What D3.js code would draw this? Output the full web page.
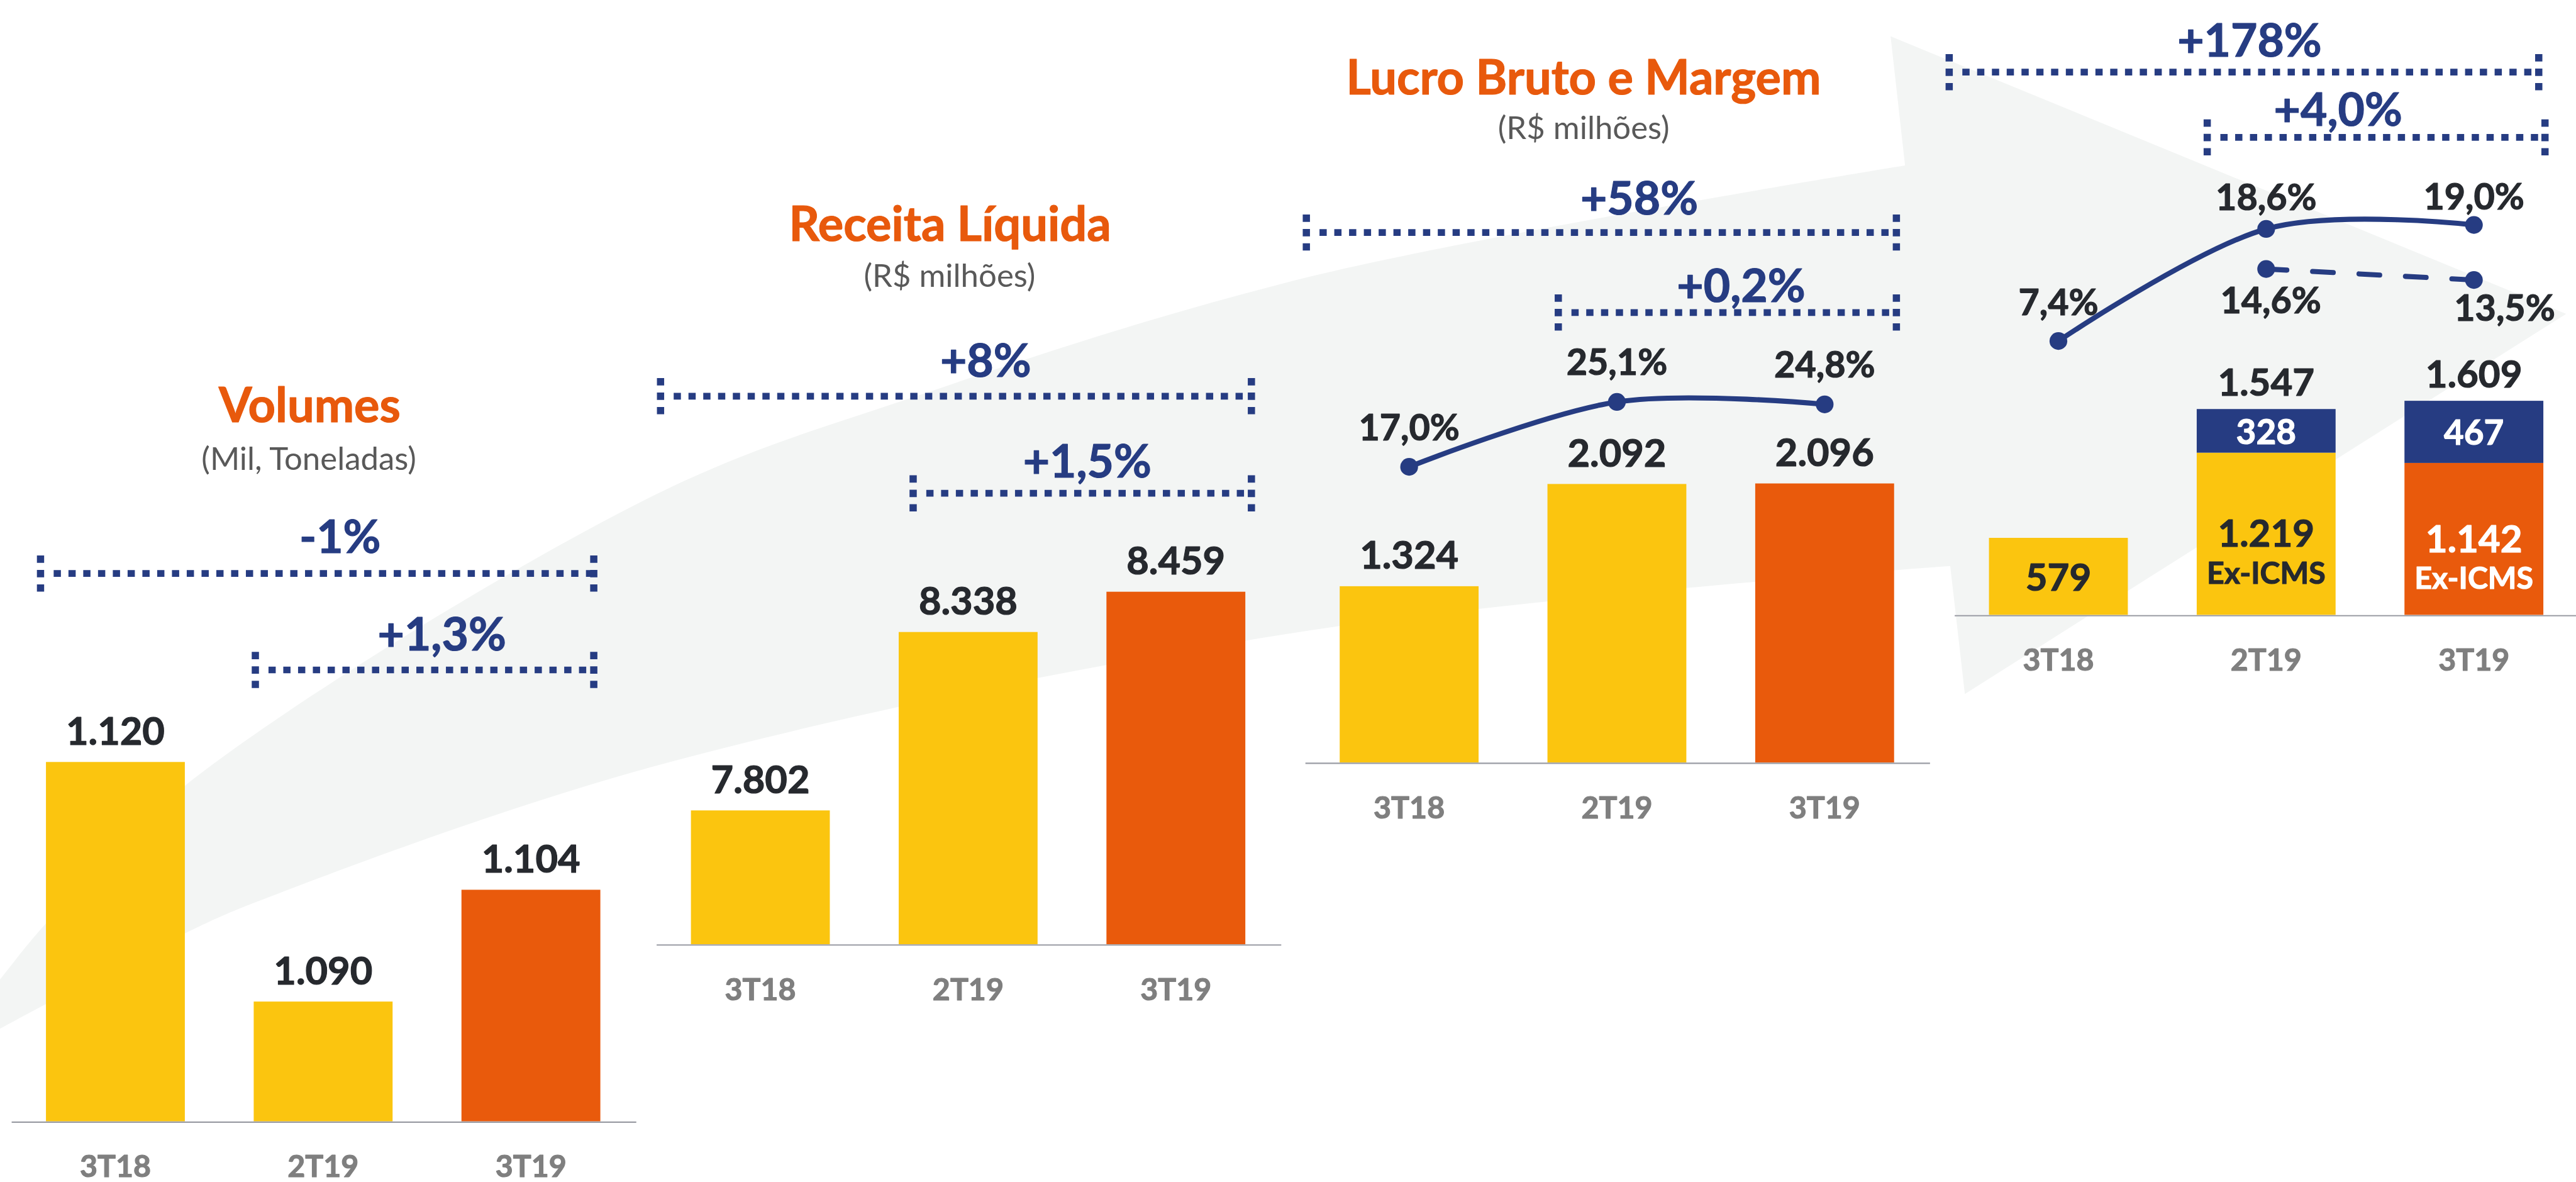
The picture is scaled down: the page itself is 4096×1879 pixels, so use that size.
<!DOCTYPE html>
<html>
<head>
<meta charset="utf-8">
<script src="https://cdnjs.cloudflare.com/ajax/libs/d3/7.8.5/d3.min.js"></script>
<style>
html, body { margin: 0; padding: 0; background: #fff; overflow: hidden; }
svg text { font-family: Lato, "Open Sans", sans-serif; }
svg text.b { font-weight: 700; stroke-width: 0.45px; stroke-linejoin: round; }
</style>
</head>
<body>
<script>
// Data
var quarters = ["3T18", "2T19", "3T19"];
var volumes = [1120, 1090, 1104];            // mil toneladas
var receita = [7802, 8338, 8459];            // R$ milhões
var lucroBruto = [1324, 2092, 2096];         // R$ milhões
var margemBruta = [17.0, 25.1, 24.8];        // %
var ebitdaExIcms = [579, 1219, 1142];        // R$ milhões
var ebitdaIcms = [0, 328, 467];              // R$ milhões
var margemEbitda = [7.4, 18.6, 19.0];        // %
var margemEbitdaExIcms = [null, 14.6, 13.5]; // %
var deltaTotal = ["-1%", "+8%", "+58%", "+178%"];
var deltaTri = ["+1,3%", "+1,5%", "+0,2%", "+4,0%"];
var titles = ["Volumes", "Receita Líquida", "Lucro Bruto e Margem"];
var subtitles = ["(Mil, Toneladas)", "(R$ milhões)", "(R$ milhões)"];

// everything is laid out on a 1568 x 719 grid and scaled up to the window
var k = 4096 / 1568;

var YELLOW = "#fbc50f", ORANGE = "#e95a0c", NAVY = "#263c82",
    DARK = "#26292e", GREY = "#7f7f7f", SUB = "#595959", TITLE = "#e8590c";

var pt = d3.formatLocale({decimal: ",", thousands: ".", grouping: [3], currency: ["R$", ""]});
var fmtNum = pt.format(",");
var fmt1 = pt.format(".1f");
function fmtPct(v) { return fmt1(v) + "%"; }
function barColor(i) { return i === 2 ? ORANGE : YELLOW; }

// bold label helper (stroke in the fill colour to thicken Lato a bit)
function label(g, x, y, txt, size, col) {
    return g.append("text").attr("class", "b")
        .attr("x", x).attr("y", y)
        .attr("text-anchor", "middle")
        .attr("fill", col).attr("stroke", col)
        .style("font-size", size + "px")
        .text(txt);
}

var svg = d3.select("body").append("svg")
    .attr("width", 4096)
    .attr("height", 1879);

var root = svg.append("g").attr("transform", "scale(" + k + ")");

// big light grey arrow in the background
var upperEdge = [[-10, 608], [0, 596], [28, 562], [112.7, 478], [399, 301], [558, 241], [799, 168], [1159.6, 100.7]];
var arrowHead = [[1150.8, 22.1], [1562, 191], [1196, 422.3], [1187.1, 344.4]];
var lowerEdge = [[1187.1, 344.4], [798.8, 383.4], [399.4, 466], [155.8, 549], [112.5, 568], [28, 611], [0, 626], [-10, 631]];
var edge = d3.line().curve(d3.curveCatmullRom.alpha(0.5));
root.append("path")
    .attr("d", edge(upperEdge) +
        arrowHead.map(function(p) { return "L" + p[0] + "," + p[1]; }).join("") +
        edge(lowerEdge).replace(/^M/, "L") + "Z")
    .attr("fill", "#f3f5f4");

var panels = [
    {x0: 6.6, y: d3.scaleLinear().domain([1075, 1120]).range([682.4, 463.7]), values: volumes,
     title: [188.5, 257], sub: [188, 286],
     brackets: [
        {from: 0, to: 2, dl: -3.3, dr: -4, y: 349, lx: 207, ly: 336.5},
        {from: 1, to: 2, dl: 1, dr: -4, y: 407.7, lx: 269, ly: 396}]},
    {x0: 399.2, y: d3.scaleLinear().domain([7400, 8459]).range([574.6, 360.1]), values: receita,
     title: [578.3, 146.7], sub: [578, 174.6],
     brackets: [
        {from: 0, to: 2, dl: -18.5, dr: 3.7, y: 241.1, lx: 600, ly: 229.2},
        {from: 1, to: 2, dl: 8.8, dr: 3.7, y: 300.2, lx: 661.8, ly: 290.7}]},
    {x0: 794.1, y: d3.scaleLinear().domain([0, 2096]).range([464, 294.2]), values: lucroBruto,
     title: [963.9, 57.4], sub: [964, 84.5],
     line: d3.scaleLinear().domain([0, 25.1]).range([367, 244.6]),
     brackets: [
        {from: 0, to: 2, dl: -20.3, dr: 1.4, y: 141.5, lx: 997.8, ly: 130.6},
        {from: 1, to: 2, dl: 6.6, dr: 1.4, y: 190.2, lx: 1059.8, ly: 183.7}]},
    {x0: 1189.3, y: d3.scaleLinear().domain([0, 1609]).range([374.2, 243.9]), values: null,
     line: d3.scaleLinear().domain([0, 19]).range([252.6, 136.9]),
     brackets: [
        {from: 0, to: 2, dl: -24.2, dr: -2.8, y: 43.9, lx: 1369.3, ly: 34.5},
        {from: 1, to: 2, dl: 6.4, dr: 1, y: 83.6, lx: 1423.2, ly: 76.4}]}
];

function bracket(g, xL, xR, y) {
    [xL, xR].forEach(function(xx) {
        g.append("line")
            .attr("x1", xx).attr("x2", xx)
            .attr("y1", y - 11).attr("y2", y + 11)
            .attr("stroke", NAVY).attr("stroke-width", 4.4)
            .attr("stroke-dasharray", "4.5 4.3");
    });
    g.append("line")
        .attr("x1", xL + 8).attr("x2", xR - 1)
        .attr("y1", y).attr("y2", y)
        .attr("stroke", NAVY).attr("stroke-width", 4.1)
        .attr("stroke-dasharray", "4.4 4.6");
}

panels.forEach(function(p, pi) {
    var g = root.append("g");
    var x = d3.scaleBand().domain(quarters)
        .range([p.x0, p.x0 + 380.2])
        .paddingInner(0.3315)
        .paddingOuter(0.169);
    var bw = x.bandwidth();
    var y = p.y;

    // titles
    if (pi < 3) {
        label(g, p.title[0], p.title[1], titles[pi], 29, TITLE);
        g.append("text").attr("x", p.sub[0]).attr("y", p.sub[1])
            .attr("text-anchor", "middle").attr("fill", SUB)
            .style("font-size", "19.5px")
            .text(subtitles[pi]);
    }

    // growth brackets
    p.brackets.forEach(function(b, bi) {
        bracket(g, x(quarters[b.from]) + b.dl, x(quarters[b.to]) + bw + b.dr, b.y);
        label(g, b.lx, b.ly, bi === 0 ? deltaTotal[pi] : deltaTri[pi], 28, NAVY);
    });

    // bars
    if (p.values) {
        g.selectAll(".bar").data(p.values).enter().append("rect")
            .attr("x", function(d, i) { return x(quarters[i]); })
            .attr("width", bw)
            .attr("y", function(d) { return y(d); })
            .attr("height", function(d) { return y.range()[0] - y(d); })
            .attr("fill", function(d, i) { return barColor(i); });
        p.values.forEach(function(d, i) {
            label(g, x(quarters[i]) + bw / 2, y(d) - 10.5, fmtNum(d), 23.5, DARK);
        });
    } else {
        var table = quarters.map(function(q, i) {
            return {q: q, i: i, exIcms: ebitdaExIcms[i], icms: ebitdaIcms[i]};
        });
        var series = d3.stack().keys(["exIcms", "icms"])(table);
        var segs = g.selectAll(".seg").data(series).enter().append("g");
        segs.selectAll("rect").data(function(s) { return s.map(function(d) { return {key: s.key, d: d}; }); })
            .enter().append("rect")
            .filter(function(e) { return e.d[1] > e.d[0]; })
            .attr("x", function(e) { return x(e.d.data.q); })
            .attr("width", bw)
            .attr("y", function(e) { return y(e.d[1]); })
            .attr("height", function(e) { return y(e.d[0]) - y(e.d[1]); })
            .attr("fill", function(e) { return e.key === "icms" ? NAVY : barColor(e.d.data.i); });

        // segment labels
        series[0].forEach(function(d) {
            var cx = x(d.data.q) + bw / 2;
            var mid = (y(d[0]) + y(d[1])) / 2;
            var col = d.data.i === 2 ? "#ffffff" : DARK;
            if (d.data.icms > 0) {
                label(g, cx, mid + 8, fmtNum(d.data.exIcms), 23, col);
                label(g, cx, mid + 30.5, "Ex-ICMS", 18.5, col);
            } else {
                label(g, cx, mid + 8.7, fmtNum(d.data.exIcms), 23, col);
            }
        });
        series[1].forEach(function(d) {
            if (d[1] <= d[0]) return;
            var cx = x(d.data.q) + bw / 2;
            label(g, cx, (y(d[0]) + y(d[1])) / 2 + 8, fmtNum(d.data.icms), 21, "#ffffff");
            label(g, cx, y(d[1]) - 8, fmtNum(d[1]), 23, DARK);
        });
    }

    // axis with quarter labels
    var ax = g.append("g")
        .attr("transform", "translate(0," + y.range()[0] + ")")
        .call(d3.axisBottom(x).tickSize(0).tickSizeOuter(0));
    ax.select(".domain").attr("stroke", "#9a9ca4").attr("stroke-width", 0.8);
    ax.selectAll("text")
        .attr("class", "b")
        .attr("y", 34).attr("dy", 0)
        .attr("fill", GREY).attr("stroke", GREY)
        .style("font-size", "18.5px");

    // margin lines
    if (p.line) {
        var ly = p.line;
        var cx = function(d, i) { return x(quarters[i]) + bw / 2; };
        var marginLine = d3.line()
            .defined(function(d) { return d != null; })
            .x(cx)
            .y(function(d) { return ly(d); })
            .curve(d3.curveCardinal.tension(0));

        var main = pi === 2 ? margemBruta : margemEbitda;
        var above = pi === 2 ? [-16, -16.3, -16.2] : [-15.7, -11.5, -9.4];
        g.append("path").attr("d", marginLine(main))
            .attr("fill", "none").attr("stroke", NAVY)
            .attr("stroke-width", 3.1).attr("stroke-linecap", "round");
        g.selectAll(".mk").data(main).enter().append("circle")
            .attr("cx", cx).attr("cy", function(d) { return ly(d); })
            .attr("r", 5.4).attr("fill", NAVY);
        main.forEach(function(d, i) {
            label(g, cx(d, i), ly(d) + above[i], fmtPct(d), 22, DARK);
        });

        if (pi === 3) {
            var below = [null, [2.8, 27.1], [18.7, 24.8]];
            g.append("path").attr("d", marginLine(margemEbitdaExIcms))
                .attr("fill", "none").attr("stroke", NAVY)
                .attr("stroke-width", 3.1).attr("stroke-linecap", "round")
                .attr("stroke-dasharray", "12.6 15.7");
            margemEbitdaExIcms.forEach(function(d, i) {
                if (d == null) return;
                g.append("circle").attr("cx", cx(d, i)).attr("cy", ly(d))
                    .attr("r", 5.4).attr("fill", NAVY);
                label(g, cx(d, i) + below[i][0], ly(d) + below[i][1], fmtPct(d), 22, DARK);
            });
        }
    }
});
</script>
</body>
</html>
